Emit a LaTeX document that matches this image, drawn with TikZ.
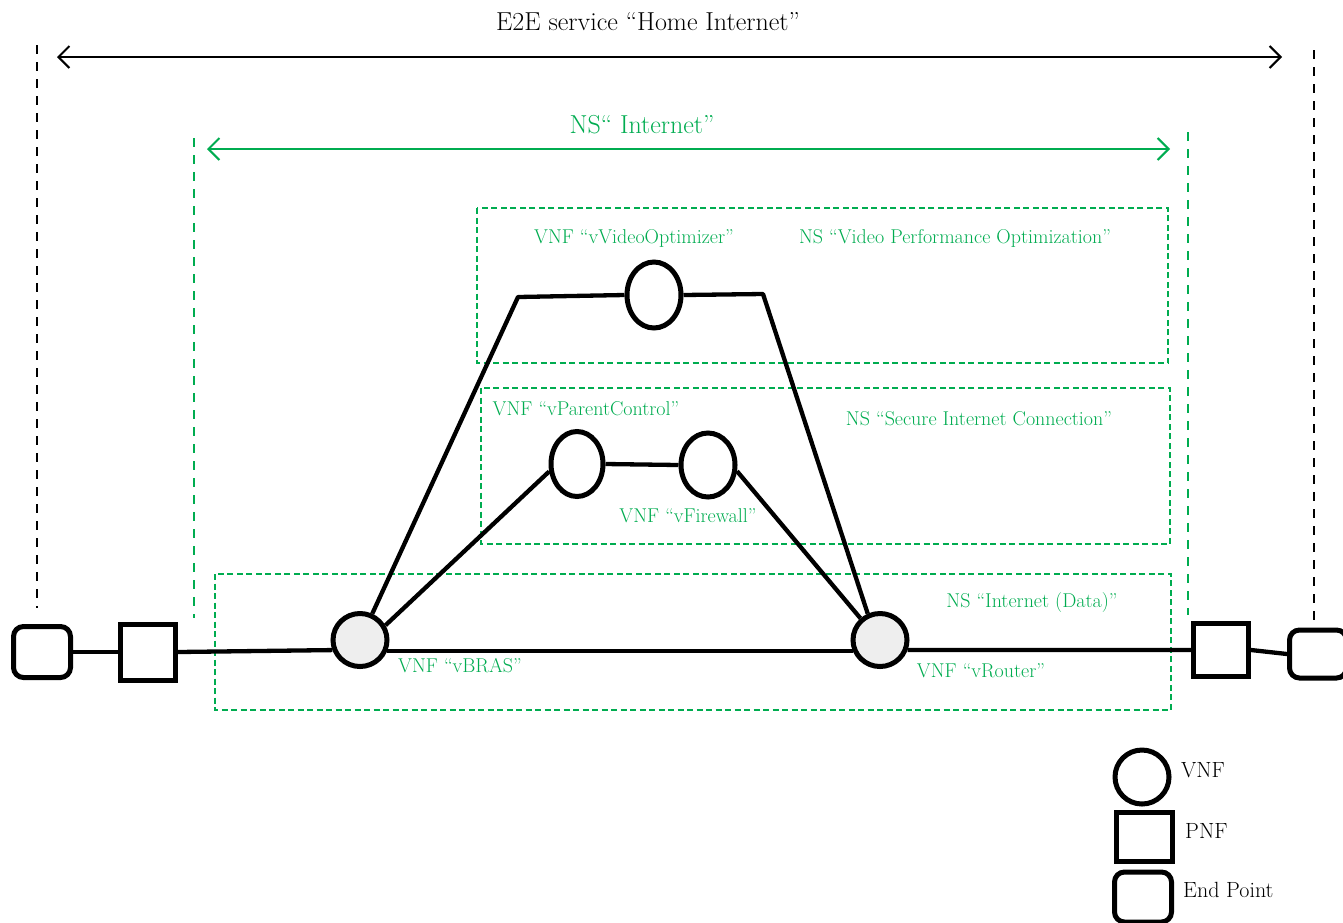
\documentclass[tikz,border=0pt]{standalone}
\usepackage{fontspec}
\usetikzlibrary{shapes.geometric,arrows.meta}
\definecolor{nsgreen}{RGB}{0,172,80}
\definecolor{vnffill}{RGB}{238,238,238}
\begin{document}
\begin{tikzpicture}[x=1pt,y=-1pt,
  vnf/.style={ellipse,draw,line width=5pt,inner sep=0pt},
  pnf/.style={rectangle,draw,line width=5pt,inner sep=0pt,minimum width=55pt,minimum height=56pt},
  ep/.style={rectangle,rounded corners=10pt,draw,line width=5pt,inner sep=0pt,minimum width=57pt,minimum height=51pt},
  link/.style={line width=4.3pt},
  nsbox/.style={draw=nsgreen,line width=1.8pt,dash pattern=on 6pt off 3.5pt},
  bound/.style={line width=1.8pt,dash pattern=on 9pt off 8pt},
  gtext/.style={text=nsgreen,font=\fontsize{20}{24}\selectfont,inner sep=0pt},
  btext/.style={text=black,font=\fontsize{22}{26}\selectfont,inner sep=0pt,anchor=west},
  span/.style={line width=2pt,{Straight Barb[length=11pt,width=22pt]}-{Straight Barb[length=11pt,width=22pt]}}
]
\useasboundingbox (0,0) rectangle (1343,922);

% E2E span
\node[font=\fontsize{26}{30}\selectfont,inner sep=0pt] (e2e) at (648,22) {E2E service “Home Internet”};
\coordinate (e2eL) at (57,57);
\coordinate (e2eR) at (1282,57);
\draw[span,black] (e2eL) -- (e2eR);
\draw[bound] (37,45) -- (37,608);
\draw[bound] (1314,50) -- (1314,620);

% NS Internet span
\node[font=\fontsize{26}{30}\selectfont,text=nsgreen,inner sep=0pt] (nsint) at (642,125) {NS“ Internet”};
\coordinate (nsL) at (207,149);
\coordinate (nsR) at (1170,149);
\draw[span,draw=nsgreen] (nsL) -- (nsR);
\draw[bound,draw=nsgreen] (194,138) -- (194,618);
\draw[bound,draw=nsgreen] (1188,132) -- (1188,615);

% NS boxes
\draw[nsbox] (477,208) rectangle (1168,363);
\draw[nsbox] (481,388) rectangle (1170,544);
\draw[nsbox] (215,574) rectangle (1171,710);

% labels
\node[gtext] (lvid) at (634,238) {VNF “vVideoOptimizer”};
\node[gtext] (lvps) at (955,238) {NS “Video Performance Optimization”};
\node[gtext] (lpar) at (586,409) {VNF “vParentControl”};
\node[gtext] (lsec) at (979,419) {NS “Secure Internet Connection”};
\node[gtext] (lfw) at (688,516) {VNF “vFirewall”};
\node[gtext] (ldata) at (1032,602) {NS “Internet (Data)”};
\node[gtext] (lbras) at (460,666) {VNF “vBRAS”};
\node[gtext] (lrout) at (981,671) {VNF “vRouter”};

% nodes
\node[ep] (epL) at (42,652) {};
\node[pnf] (pnfL) at (148,652) {};
\node[vnf,fill=vnffill,minimum width=54pt,minimum height=53pt] (vbras) at (360,640) {};
\node[vnf,fill=vnffill,minimum width=54pt,minimum height=53pt] (vrouter) at (880,640) {};
\node[pnf,minimum height=53pt] (pnfR) at (1221,650) {};
\node[ep,minimum height=48pt] (epR) at (1318,654) {};
\node[vnf,fill=white,minimum width=54pt,minimum height=66pt] (vvid) at (654,295) {};
\node[vnf,fill=white,minimum width=52pt,minimum height=65pt] (vpar) at (577,464) {};
\node[vnf,fill=white,minimum width=54pt,minimum height=64pt] (vfw) at (708,465) {};

\coordinate (tl) at (518,297);
\coordinate (tr) at (763,294);

% connectors
\draw[link] (epL.east) -- (pnfL.west);
\draw[link] (pnfL.east) -- (vbras.200);
\draw[link] (vbras.-22) -- (vrouter.202);
\draw[link] (vrouter.-20) -- (pnfR.west);
\draw[link] (pnfR.east) -- (epR.west);
\draw[link,line join=round] (vbras.65) -- (tl) -- (vvid.west);
\draw[link,line join=round] (vvid.east) -- (tr) -- (vrouter.115);
\draw[link] (vbras.30) -- (vpar.195);
\draw[link] (vpar.east) -- (vfw.west);
\draw[link] (vfw.-12) -- (vrouter.132);

% legend
\node[vnf,minimum width=54pt,minimum height=54pt] (lgvnf) at (1142,777) {};
\node[pnf,minimum width=56pt,minimum height=49pt] (lgpnf) at (1144,837) {};
\node[ep,minimum width=57pt,minimum height=50pt] (lgep) at (1143,897) {};
\node[btext] (tvnf) at (1181,770) {VNF};
\node[btext] (tpnf) at (1185,831) {PNF};
\node[btext] (tep) at (1183,890) {End Point};
\end{tikzpicture}
\end{document}
